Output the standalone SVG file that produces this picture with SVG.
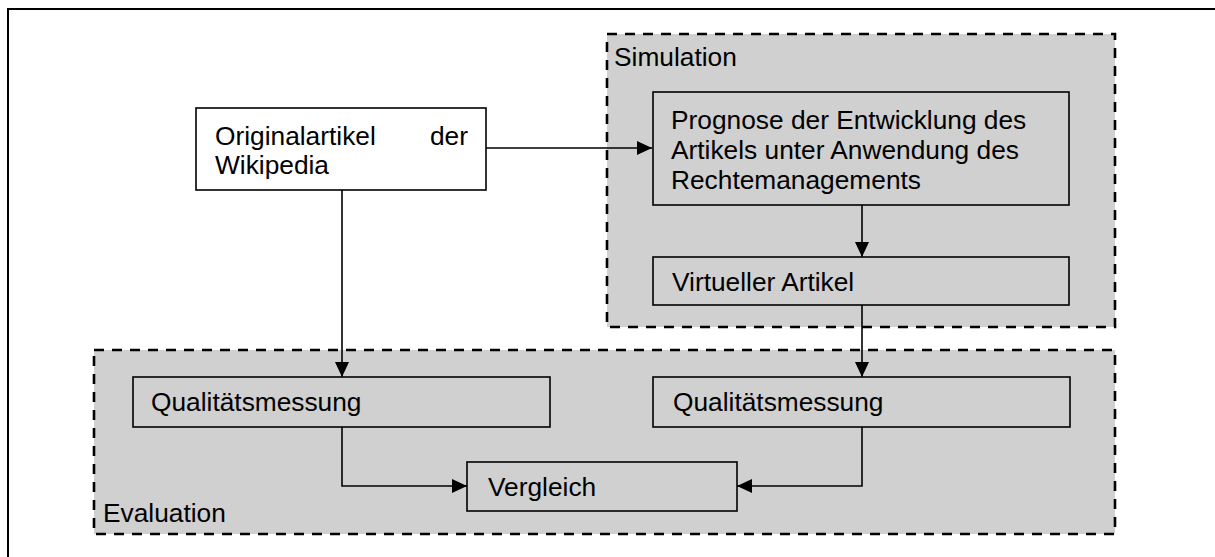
<svg xmlns="http://www.w3.org/2000/svg" width="1215" height="557" viewBox="0 0 1215 557">
  <defs>
    <style>
      .frame { fill: none; stroke: #000; stroke-width: 2; }
      .group { fill: #d0d0d0; stroke: #000; stroke-width: 2.6; stroke-dasharray: 10 8; }
      .box { stroke: #000; stroke-width: 1.6; }
      .white { fill: #fff; }
      .grey { fill: #d0d0d0; }
      .lbl { font-family: "Liberation Sans", Arial, sans-serif; font-size: 26.3px; fill: #000; }
      .conn { fill: none; stroke: #000; stroke-width: 1.6; }
    </style>
    <marker id="arrow" viewBox="0 0 15 14" refX="15" refY="7" markerWidth="15" markerHeight="14" markerUnits="userSpaceOnUse" orient="auto">
      <path d="M0,0 L15,7 L0,14 Z" fill="#000"/>
    </marker>
  </defs>

  <rect x="0" y="0" width="1215" height="557" fill="#fff"/>
  <path class="frame" d="M8,560 V9 H1220"/>

  <g id="simulation">
    <rect class="group" x="607" y="34" width="508" height="293"/>
    <text class="lbl" x="614" y="66">Simulation</text>
  </g>

  <g id="evaluation">
    <rect class="group" x="94" y="350" width="1021" height="184"/>
    <text class="lbl" x="103" y="522">Evaluation</text>
  </g>

  <g id="original">
    <rect class="box white" x="196" y="108" width="290" height="82"/>
    <text class="lbl" x="215" y="145">Originalartikel</text>
    <text class="lbl" x="468" y="145" text-anchor="end">der</text>
    <text class="lbl" x="215" y="174">Wikipedia</text>
  </g>

  <g id="prognose">
    <rect class="box grey" x="653" y="92" width="416" height="113"/>
    <text class="lbl" x="671" y="129">Prognose der Entwicklung des</text>
    <text class="lbl" x="671" y="159">Artikels unter Anwendung des</text>
    <text class="lbl" x="671" y="189">Rechtemanagements</text>
  </g>

  <g id="virtueller">
    <rect class="box grey" x="653" y="257" width="416" height="48"/>
    <text class="lbl" x="672" y="291">Virtueller Artikel</text>
  </g>

  <g id="quali-left">
    <rect class="box grey" x="133" y="377" width="417" height="50"/>
    <text class="lbl" x="151" y="411">Qualitätsmessung</text>
  </g>

  <g id="quali-right">
    <rect class="box grey" x="653" y="377" width="417" height="50"/>
    <text class="lbl" x="673" y="411">Qualitätsmessung</text>
  </g>

  <g id="vergleich">
    <rect class="box grey" x="467" y="462" width="270" height="49"/>
    <text class="lbl" x="488" y="496">Vergleich</text>
  </g>

  <g id="connectors">
    <path class="conn" d="M486,148 H652" marker-end="url(#arrow)"/>
    <path class="conn" d="M862,205 V257" marker-end="url(#arrow)"/>
    <path class="conn" d="M862,305 V377" marker-end="url(#arrow)"/>
    <path class="conn" d="M342,190 V377" marker-end="url(#arrow)"/>
    <path class="conn" d="M342,427 V486 H467" marker-end="url(#arrow)"/>
    <path class="conn" d="M862,427 V486 H737" marker-end="url(#arrow)"/>
  </g>
</svg>
